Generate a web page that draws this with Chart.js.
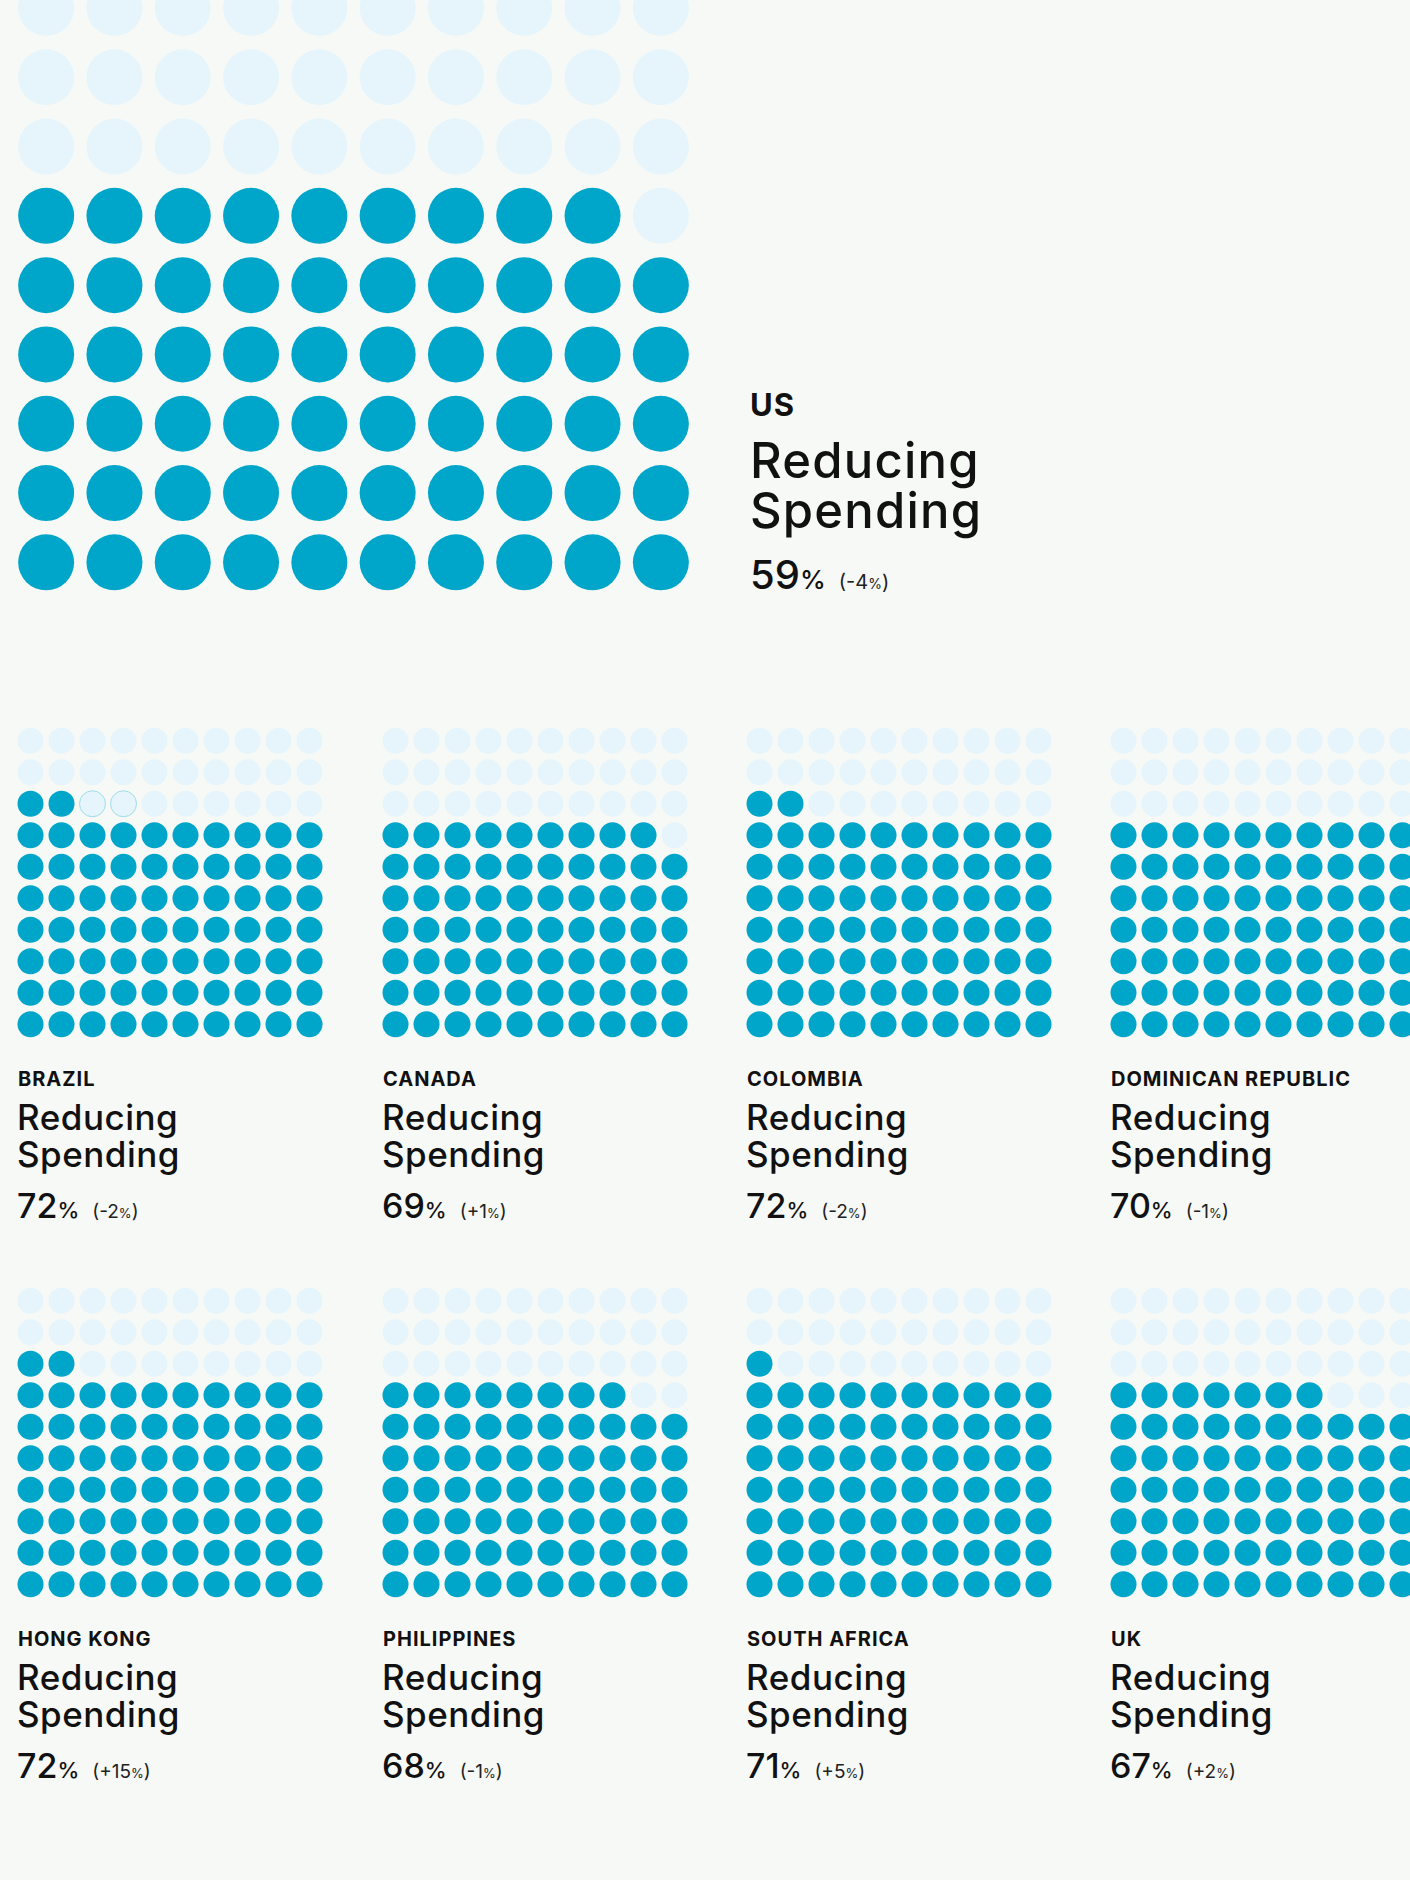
<!DOCTYPE html>
<html>
<head>
<meta charset="utf-8">
<title>Reducing Spending by market</title>
<script src="https://cdn.jsdelivr.net/npm/chart.js@4.4.1/dist/chart.umd.min.js"></script>
<style>
    html, body {
        margin: 0;
        padding: 0;
        background: #f7f9f6;
    }
    body {
        position: relative;
        width: 1410px;
        height: 1880px;
        overflow: hidden;
        font-family: "Inter", "Noto Sans", sans-serif;
        color: #111;
    }
    .waffle {
        position: absolute;
    }
    .line {
        position: absolute;
        white-space: nowrap;
        line-height: 1;
        font-weight: 500;
    }
    .country { font-weight: 700; letter-spacing: 1px; }
    .metric { letter-spacing: 0.5px; }
    .metric.big { letter-spacing: 1.2px; }
    .change { color: #222; font-weight: 400; }
</style>
</head>
<body>
<script>
// Data
const countries = ['US', 'BRAZIL', 'CANADA', 'COLOMBIA', 'DOMINICAN REPUBLIC',
                   'HONG KONG', 'PHILIPPINES', 'SOUTH AFRICA', 'UK'];
const reducingSpending = [59, 72, 69, 72, 70, 72, 68, 71, 67];   // % of respondents
const changeVsLast = [-4, -2, 1, -2, -1, 15, -1, 5, 2];          // points vs last wave
const outlinedDots = [0, 2, 0, 0, 0, 0, 0, 0, 0];                // dots shown as outline only
const metricLine1 = 'Reducing';
const metricLine2 = 'Spending';
const gridCols = 10;
const gridRows = 10;

const DARK = '#00a6c9';
const LIGHT = '#e5f5fb';
const OUTLINE = '#9edbe9';

// **Panel layout** (first panel is the big US one)
const bigPanel = { left: 12, top: -96, w: 683, h: 693, r: 28 };
const smallCols = [15, 380, 744, 1108];
const smallRows = [725, 1285];
const smallSize = { w: 310, h: 315, r: 13 };

function makeDots(value, outlined) {
    const points = [], fills = [], borders = [], widths = [];
    for (let i = 0; i < gridCols * gridRows; i++) {
        points.push({ x: i % gridCols, y: Math.floor(i / gridCols) });
        if (i < value) {
            fills.push(DARK); borders.push(DARK); widths.push(0);
        } else if (i < value + outlined) {
            fills.push(LIGHT); borders.push(OUTLINE); widths.push(1);
        } else {
            fills.push(LIGHT); borders.push(LIGHT); widths.push(0);
        }
    }
    return { points, fills, borders, widths };
}

function drawWaffle(idx, box) {
    const wrap = document.createElement('div');
    wrap.className = 'waffle';
    wrap.style.left = box.left + 'px';
    wrap.style.top = box.top + 'px';
    const canvas = document.createElement('canvas');
    canvas.width = box.w;
    canvas.height = box.h;
    wrap.appendChild(canvas);
    document.body.appendChild(wrap);

    const dots = makeDots(reducingSpending[idx], outlinedDots[idx]);
    new Chart(canvas.getContext('2d'), {
        type: 'scatter',
        data: {
            datasets: [{
                data: dots.points,
                pointRadius: box.r,
                pointHoverRadius: box.r,
                pointBackgroundColor: dots.fills,
                pointBorderColor: dots.borders,
                pointBorderWidth: dots.widths,
                clip: false
            }]
        },
        options: {
            responsive: false,
            animation: false,
            events: [],
            layout: { padding: 0, autoPadding: false },
            plugins: {
                legend: { display: false },
                tooltip: { enabled: false }
            },
            scales: {
                x: { type: 'linear', min: -0.5, max: gridCols - 0.5, display: false },
                y: { type: 'linear', min: -0.5, max: gridRows - 0.5, display: false }
            }
        }
    });
}

// put a line of text so that its baseline sits at y
function addLine(html, x, baseline, size, cls) {
    const el = document.createElement('div');
    el.className = 'line ' + (cls || '');
    el.style.left = x + 'px';
    el.style.top = (baseline - 0.85 * size) + 'px';
    el.style.fontSize = size + 'px';
    el.innerHTML = html;
    document.body.appendChild(el);
}

function valueHtml(idx, big, pct, chg, chgPct, gap) {
    const c = changeVsLast[idx];
    const sign = c > 0 ? '+' : '-';
    return `<span style="font-size:${big}px">${reducingSpending[idx]}</span>` +
           `<span style="font-size:${pct}px">%</span>` +
           `<span class="change" style="font-size:${chg}px; margin-left:${gap}px">(${sign}${Math.abs(c)}` +
           `<span style="font-size:${chgPct}px">%</span>)</span>`;
}

function drawLabels(idx, x, base, big) {
    if (big) {
        addLine(countries[idx], x, base, 31, 'country');
        addLine(metricLine1, x, base + 63, 49, 'metric big');
        addLine(metricLine2, x, base + 113, 49, 'metric big');
        addLine(valueHtml(idx, 40, 26, 20, 14, 13), x, base + 174, 40);
    } else {
        addLine(countries[idx], x + 1, base, 20, 'country');
        addLine(metricLine1, x, base + 44, 35, 'metric');
        addLine(metricLine2, x, base + 81, 35, 'metric');
        addLine(valueHtml(idx, 34, 22, 19, 13, 13), x, base + 132, 34);
    }
}

document.addEventListener('DOMContentLoaded', function () {
    // big US panel
    drawWaffle(0, bigPanel);
    drawLabels(0, 750, 415, true);

    // 2 x 4 small panels
    for (let k = 1; k < countries.length; k++) {
        const col = (k - 1) % 4;
        const row = Math.floor((k - 1) / 4);
        const box = { left: smallCols[col], top: smallRows[row], w: smallSize.w, h: smallSize.h, r: smallSize.r };
        drawWaffle(k, box);
        drawLabels(k, smallCols[col] + 2, 1086 + row * 560, false);
    }
});
</script>
</body>
</html>
